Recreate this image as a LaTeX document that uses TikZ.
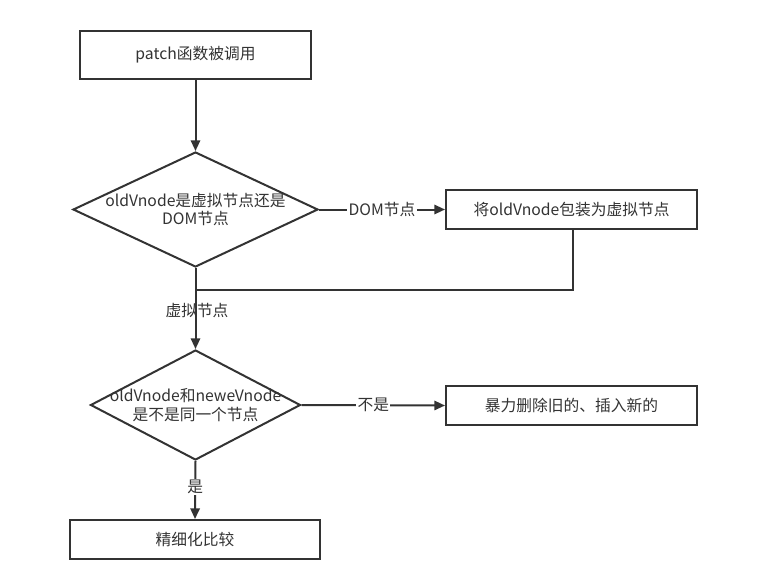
\documentclass[tikz,border=0pt]{standalone}
\usepackage{fontspec}
\setmainfont{Noto Sans CJK SC}
\usetikzlibrary{shapes.geometric,arrows.meta}
\definecolor{ink}{HTML}{333333}
\begin{document}
\begin{tikzpicture}[x=0.75pt,y=-0.75pt,
  every node/.style={text=ink,font=\fontsize{11.8pt}{14pt}\selectfont},
  procbox/.style={draw=ink,line width=1.5pt,rectangle,inner sep=0pt},
  flow/.style={draw=ink,line width=1.5pt,-{Triangle[length=8pt,width=7pt]}},
  lbl/.style={fill=white,inner sep=1pt}]
\useasboundingbox (0,0) rectangle (766,567);
\node[procbox,minimum width=231*0.75pt,minimum height=48*0.75pt] (start) at (195.5,55) {patch函数被调用};
\node[draw=ink,line width=1.5pt,diamond,inner sep=0pt,minimum width=245*0.75pt,minimum height=115*0.75pt,aspect=2.13] (d1) at (195.5,209.5) {};
\node[align=center] (d1t) at (195.5,209.5) {oldVnode是虚拟节点还是\\DOM节点};
\node[procbox,minimum width=251*0.75pt,minimum height=39*0.75pt] (wrap) at (571.5,209.5) {将oldVnode包装为虚拟节点};
\node[draw=ink,line width=1.5pt,diamond,inner sep=0pt,minimum width=210*0.75pt,minimum height=110*0.75pt,aspect=1.9] (d2) at (195.5,405) {};
\node[align=center] (d2t) at (195.5,405) {oldVnode和neweVnode\\是不是同一个节点};
\node[procbox,minimum width=251*0.75pt,minimum height=39*0.75pt] (brute) at (571.5,405.5) {暴力删除旧的、插入新的};
\node[procbox,minimum width=250*0.75pt,minimum height=39*0.75pt] (fine) at (195,539.5) {精细化比较};
\coordinate (turn1) at (573,290);
\coordinate (join1) at (195.5,290);
\draw[flow] (start) -- (d1);
\draw[flow] (d1.east) -- node[lbl] (l1) {DOM节点} (wrap.west);
\draw[draw=ink,line width=1.5pt] (wrap.south -| turn1) -- (turn1) -- (join1);
\draw[flow] (d1.south) -- (d2.north);
\node (l2) at (197,311) {虚拟节点};
\draw[flow] (d2.east) -- node[lbl] (l3) {不是} (brute.west);
\draw[flow] (d2.south) -- node[lbl,pos=0.45] (l4) {是} (fine.north);
\end{tikzpicture}
\end{document}
